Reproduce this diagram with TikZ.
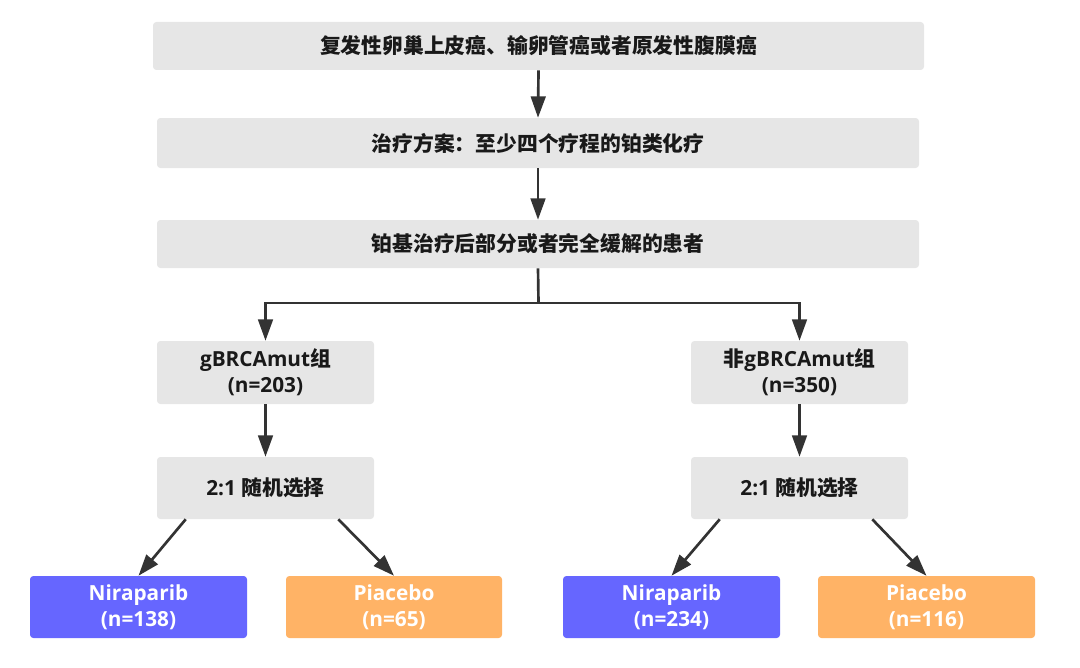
\documentclass[tikz,border=0pt]{standalone}
\usepackage{fontspec}
\setmainfont{Open Sans}
\newfontfamily\cjk{Noto Sans CJK SC}
\usetikzlibrary{arrows.meta}
\definecolor{boxgray}{HTML}{E6E6E6}
\definecolor{linegray}{HTML}{333333}
\definecolor{niblue}{HTML}{6666FF}
\definecolor{plorange}{HTML}{FFB366}
\newcommand{\zh}[1]{{\cjk\bfseries #1}}
\begin{document}
\begin{tikzpicture}[x=0.75pt,y=-0.75pt,
  box/.style={rectangle,rounded corners=2.5pt,inner sep=0pt,align=center,font=\fontsize{15.6pt}{19.5pt}\selectfont\bfseries,text=black!90},
  graybox/.style={box,fill=boxgray},
  bluebox/.style={box,fill=niblue,text=white},
  orangebox/.style={box,fill=plorange,text=white},
  conn/.style={draw=linegray,line width=2pt},
  arr/.style={conn,-{Triangle[width=11pt,length=16pt]}}]
\useasboundingbox (0,0) rectangle (1080,667);
\node[graybox,minimum width=771*0.75pt,minimum height=48*0.75pt] (b1) at (538.5,46) {\zh{复发性卵巢上皮癌、输卵管癌或者原发性腹膜癌}};
\node[graybox,minimum width=762*0.75pt,minimum height=50*0.75pt] (b2) at (538,143) {\zh{治疗方案：至少四个疗程的铂类化疗}};
\node[graybox,minimum width=762*0.75pt,minimum height=48*0.75pt] (b3) at (538,244) {\zh{铂基治疗后部分或者完全缓解的患者}};
\node[graybox,minimum width=217*0.75pt,minimum height=63*0.75pt] (b4) at (265.5,372.5) {gBRCAmut\zh{组}\\(n=203)};
\node[graybox,minimum width=217*0.75pt,minimum height=63*0.75pt] (b5) at (799.5,372.5) {\zh{非}gBRCAmut\zh{组}\\(n=350)};
\node[graybox,minimum width=217*0.75pt,minimum height=62*0.75pt] (b6) at (265.5,488) {2:1 \zh{随机选择}};
\node[graybox,minimum width=217*0.75pt,minimum height=62*0.75pt] (b7) at (799.5,488) {2:1 \zh{随机选择}};
\node[bluebox,minimum width=217*0.75pt,minimum height=62*0.75pt] (b8) at (138.5,607) {Niraparib\\(n=138)};
\node[orangebox,minimum width=216*0.75pt,minimum height=62*0.75pt] (b9) at (394,607) {Piacebo\\(n=65)};
\node[bluebox,minimum width=217*0.75pt,minimum height=62*0.75pt] (b10) at (671.5,607) {Niraparib\\(n=234)};
\node[orangebox,minimum width=217*0.75pt,minimum height=62*0.75pt] (b11) at (926.5,607) {Piacebo\\(n=116)};
\coordinate (split) at (538.5,303);
\draw[arr] (b1.south) -- (b2.north);
\draw[arr] (b2.south) -- (b3.north);
\draw[conn] (b3.south) -- (split);
\draw[arr] (split) -| (b4.north);
\draw[arr] (split) -| (b5.north);
\draw[arr] (b4.south) -- (b6.north);
\draw[arr] (b5.south) -- (b7.north);
\draw[arr] ([xshift=29*0.75pt]b6.south west) -- (b8.north);
\draw[arr] ([xshift=-36*0.75pt]b6.south east) -- (b9.north);
\draw[arr] ([xshift=29*0.75pt]b7.south west) -- (b10.north);
\draw[arr] ([xshift=-36*0.75pt]b7.south east) -- (b11.north);
\end{tikzpicture}
\end{document}
